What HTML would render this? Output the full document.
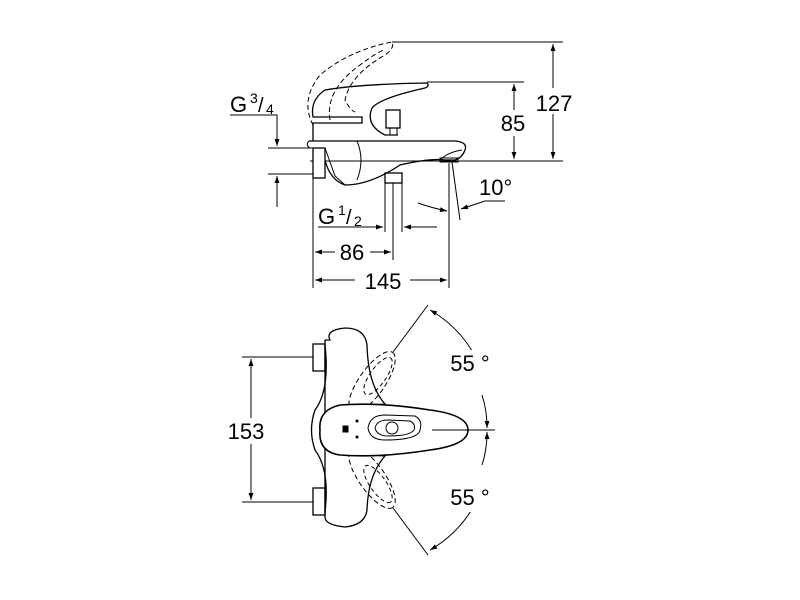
<!DOCTYPE html>
<html><head><style>
html,body{margin:0;padding:0;background:#fff;}
svg{display:block;}
text{font-family:"Liberation Sans",sans-serif;fill:#000;stroke:none;}
</style></head><body>
<svg width="800" height="600" viewBox="0 0 800 600" xmlns="http://www.w3.org/2000/svg" stroke="#000" fill="none" stroke-width="1">
<defs>
<marker id="a" viewBox="0 0 10 10" refX="10" refY="5" markerWidth="10" markerHeight="7" orient="auto-start-reverse" markerUnits="userSpaceOnUse"><path d="M0,1.5 L10,5 L0,8.5 z" fill="#000" stroke="none"/></marker>
</defs>
<!-- TOP VIEW -->
<line x1="392" y1="42" x2="563" y2="42"/>
<line x1="553" y1="44" x2="553" y2="159" marker-start="url(#a)" marker-end="url(#a)"/>
<rect x="532" y="88" width="44" height="26" fill="#fff" stroke="none"/>
<text x="554" y="111" font-size="22" text-anchor="middle">127</text>
<line x1="427" y1="82" x2="524" y2="82"/>
<line x1="514" y1="84" x2="514" y2="159" marker-start="url(#a)" marker-end="url(#a)"/>
<rect x="500" y="110" width="28" height="26" fill="#fff" stroke="none"/>
<text x="513" y="131" font-size="22" text-anchor="middle">85</text>
<line x1="310" y1="161" x2="563" y2="161"/>
<text x="230" y="112" font-size="22">G</text>
<text x="250" y="103" font-size="14">3</text>
<text x="258" y="112" font-size="20">/</text>
<text x="266" y="114" font-size="14">4</text>
<polyline points="230,115 277,115 277,146" marker-end="url(#a)"/>
<line x1="268" y1="148" x2="323" y2="148"/>
<line x1="268" y1="174" x2="315" y2="174"/>
<line x1="277" y1="207" x2="277" y2="176" marker-end="url(#a)"/>
<!-- faucet -->
<path d="M309,141 L455,141 Q468,142 465,150 Q462,158 455,160 L445,160 Q430,158 400,165 Q370,185 345,185 Q330,180 325,160" stroke-width="1.3"/>
<path d="M309,141 Q305,145 310,148 L313,148"/>
<rect x="313" y="148" width="12" height="30" stroke-width="1.3" fill="#fff"/>
<path d="M325,148 L335,176 L345,185" />
<path d="M357,141 Q365,160 357,180"/>
<path d="M440,160 Q448,152 462,150"/>
<rect x="440" y="158" width="18" height="4"/>
<path d="M313,141 L313,123 L362,123 L362,117 L313,117 Q310,100 325,90 Q360,84 427,83 Q430,86 425,88 Q380,98 372,108 Q365,125 385,135 L398,135" stroke-width="1.3"/>
<rect x="386" y="110" width="14" height="18" stroke-width="1.3"/>
<rect x="390" y="128" width="7" height="7"/>
<path d="M313,125 Q300,100 320,75 Q350,50 392,42 Q395,48 385,55 Q350,75 345,100 Q350,110 355,112" stroke-dasharray="5,3"/>
<path d="M330,120 Q325,90 360,65 Q380,50 385,50" stroke-dasharray="5,3"/>
<rect x="385" y="173" width="17" height="10" stroke-width="1.3"/>
<line x1="385" y1="183" x2="385" y2="232"/>
<line x1="402" y1="183" x2="402" y2="232"/>
<line x1="393" y1="183" x2="393" y2="260"/>
<text x="318" y="224" font-size="22">G</text>
<text x="338" y="215" font-size="14">1</text>
<text x="346" y="224" font-size="20">/</text>
<text x="354" y="226" font-size="14">2</text>
<line x1="318" y1="227" x2="383" y2="227" marker-end="url(#a)"/>
<line x1="437" y1="227" x2="404" y2="227" marker-end="url(#a)"/>
<line x1="313" y1="178" x2="313" y2="288"/>
<line x1="449" y1="163" x2="449" y2="288"/>
<line x1="315" y1="252" x2="335" y2="252" marker-start="url(#a)"/>
<line x1="370" y1="252" x2="391" y2="252" marker-end="url(#a)"/>
<text x="352" y="260" font-size="22" text-anchor="middle">86</text>
<line x1="315" y1="280" x2="355" y2="280" marker-start="url(#a)"/>
<line x1="410" y1="280" x2="447" y2="280" marker-end="url(#a)"/>
<text x="383" y="289" font-size="22" text-anchor="middle">145</text>
<line x1="452" y1="162" x2="460" y2="220"/>
<path d="M418,203 Q432,208 447,211" marker-end="url(#a)"/>
<polyline points="505,201 485,201 461,209" marker-end="url(#a)"/>
<text x="479" y="195" font-size="22">10°</text>
<!-- BOTTOM VIEW -->
<line x1="242" y1="357" x2="313" y2="357"/>
<line x1="242" y1="502" x2="313" y2="502"/>
<line x1="251" y1="359" x2="251" y2="500" marker-start="url(#a)" marker-end="url(#a)"/>
<rect x="225" y="418" width="50" height="26" fill="#fff" stroke="none"/>
<text x="246" y="439" font-size="22" text-anchor="middle">153</text>
<rect x="313" y="344" width="12" height="27" stroke-width="1.3"/>
<rect x="313" y="488" width="12" height="27" stroke-width="1.3"/>
<ellipse cx="372" cy="382" rx="36" ry="13" transform="rotate(-55 372 382)" stroke-dasharray="5,3"/>
<ellipse cx="378" cy="376" rx="22" ry="8" transform="rotate(-55 378 376)" stroke-dasharray="4,3"/>
<ellipse cx="372" cy="478" rx="36" ry="13" transform="rotate(55 372 478)" stroke-dasharray="5,3"/>
<ellipse cx="378" cy="484" rx="22" ry="8" transform="rotate(55 378 484)" stroke-dasharray="4,3"/>
<path d="M325,340 L330,340 Q325,330 345,328 Q365,328 367,345 Q368,385 385,404 Q330,410 320,430 Q330,452 385,456 Q368,475 367,510 Q365,525 345,527 Q325,525 325,517 L325,340" stroke-width="1.3"/>
<path d="M325,345 Q330,390 315,410 Q308,430 315,450 Q330,470 325,512" stroke-width="1.3"/>
<path d="M320,430 Q318,410 340,405 Q380,402 430,410 Q468,415 468,430 Q468,445 430,450 Q380,458 340,455 Q318,452 320,430 z" stroke-width="1.6" fill="#fff"/>
<path d="M368,428 Q370,415 385,415 L415,416 Q423,420 420,430 Q418,440 385,440 Q370,440 368,428 z"/>
<path d="M375,428 Q377,420 388,420 L410,421 Q416,424 414,430 Q410,436 388,436 Q377,436 375,428 z"/>
<circle cx="392" cy="428" r="6"/>
<rect x="343" y="426" width="5" height="6" fill="#000"/>
<circle cx="357" cy="421" r="1" fill="#000"/>
<circle cx="357" cy="437" r="1" fill="#000"/>
<line x1="393" y1="352" x2="428" y2="305"/>
<line x1="393" y1="508" x2="428" y2="555"/>
<line x1="432" y1="430" x2="495" y2="430"/>
<path d="M430,310 Q465,330 482,370" marker-start="url(#a)"/>
<path d="M482,395 Q487,410 487,428" marker-end="url(#a)"/>
<path d="M487,432 Q487,450 482,465" marker-start="url(#a)"/>
<path d="M482,490 Q465,530 430,550" marker-end="url(#a)"/>
<rect x="446" y="350" width="52" height="28" fill="#fff" stroke="none"/>
<rect x="446" y="484" width="52" height="28" fill="#fff" stroke="none"/>
<text x="470" y="371" font-size="22" text-anchor="middle">55 °</text>
<text x="470" y="505" font-size="22" text-anchor="middle">55 °</text>
</svg>
</body></html>
